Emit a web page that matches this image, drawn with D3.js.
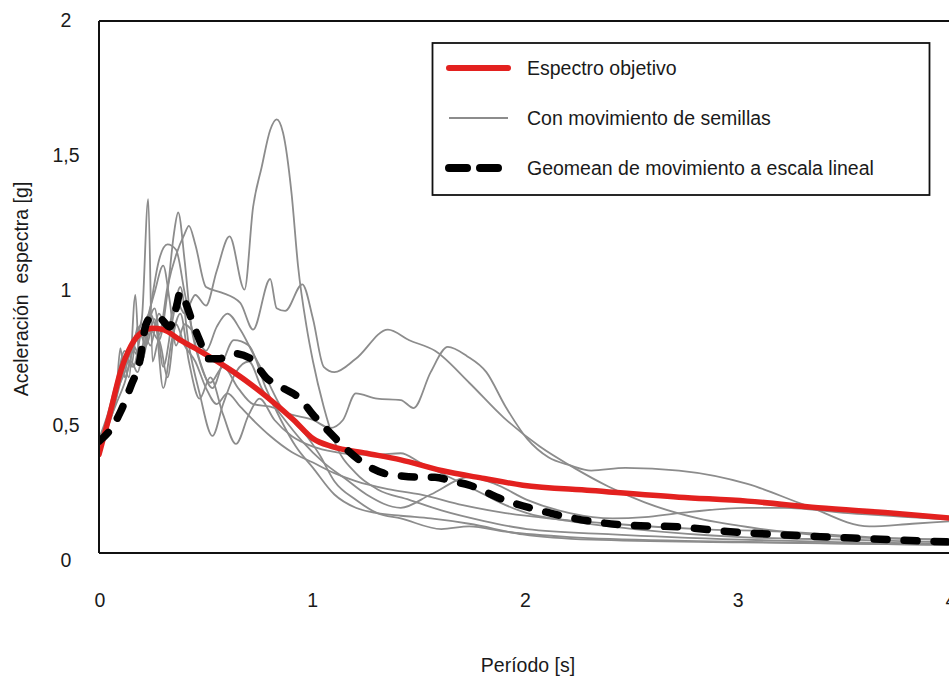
<!DOCTYPE html>
<html>
<head>
<meta charset="utf-8">
<script src="https://cdn.jsdelivr.net/npm/d3@7"></script>
<style>
  html, body { margin: 0; padding: 0; background: #fff; }
  svg { display: block; font-family: "Liberation Sans", Arial, sans-serif; }
  text { white-space: pre; }
</style>
</head>
<body>
<svg id="chart" width="949" height="677"></svg>
<script>
// ---------------- DATA ----------------
const xTicks = [0, 1, 2, 3, 4];
const yTicks = [0, 0.5, 1, 1.5, 2];
const yTickLabels = ["0", "0,5", "1", "1,5", "2"];
const xTitle = "Período [s]";
const yTitle = "Aceleración  espectra [g]";
const legendLabels = ["Espectro objetivo", "Con movimiento de semillas", "Geomean de movimiento a escala lineal"];

// Target spectrum [period, accel]
const targetSpectrum = [[0,0.37],[0.05,0.52],[0.1,0.68],[0.15,0.78],[0.2,0.83],[0.25,0.845],[0.3,0.84],[0.38,0.80],[0.47,0.76],[0.63,0.68],[0.78,0.59],[0.91,0.50],[1.0,0.43],[1.09,0.40],[1.25,0.375],[1.41,0.35],[1.6,0.31],[1.8,0.28],[1.98,0.255],[2.3,0.235],[2.71,0.21],[3.03,0.195],[3.36,0.17],[3.7,0.15],[4.0,0.13]];

// Geomean of linearly scaled motions
const geomean = [[0,0.42],[0.05,0.46],[0.1,0.53],[0.15,0.63],[0.19,0.72],[0.22,0.86],[0.25,0.89],[0.29,0.88],[0.33,0.85],[0.36,0.92],[0.38,0.98],[0.41,0.93],[0.44,0.86],[0.47,0.80],[0.51,0.73],[0.56,0.73],[0.63,0.75],[0.71,0.73],[0.78,0.66],[0.86,0.62],[0.94,0.58],[1.0,0.52],[1.07,0.46],[1.17,0.38],[1.25,0.33],[1.33,0.30],[1.41,0.29],[1.5,0.285],[1.57,0.285],[1.65,0.27],[1.73,0.255],[1.89,0.20],[2.06,0.16],[2.22,0.13],[2.46,0.105],[2.71,0.098],[2.95,0.08],[3.2,0.068],[3.52,0.056],[3.96,0.042],[4.0,0.041]];

// Seed motions
const seed1 = [[0,0.41],[0.04,0.5],[0.08,0.62],[0.12,0.72],[0.16,0.8],[0.2,0.86],[0.24,0.78],[0.28,0.9],[0.32,0.84],[0.36,0.95],[0.4,0.9],[0.45,0.97],[0.5,0.93],[0.55,1.06],[0.61,1.19],[0.68,0.99],[0.72,1.3],[0.76,1.45],[0.8,1.59],[0.83,1.63],[0.86,1.58],[0.9,1.35],[0.93,1.08],[0.97,0.85],[1.0,0.72],[1.05,0.55],[1.1,0.42],[1.2,0.3],[1.3,0.24],[1.45,0.2],[1.6,0.16],[1.8,0.12],[2.0,0.09],[2.4,0.07],[3.0,0.05],[3.5,0.04],[4.0,0.035]];
const seed2 = [[0,0.42],[0.04,0.5],[0.08,0.6],[0.1,0.77],[0.12,0.66],[0.15,0.74],[0.17,0.8],[0.2,0.88],[0.23,1.33],[0.25,0.72],[0.28,0.8],[0.32,0.66],[0.36,0.86],[0.4,0.78],[0.45,0.72],[0.5,0.62],[0.55,0.56],[0.6,0.6],[0.66,0.55],[0.72,0.5],[0.8,0.44],[0.9,0.38],[1.0,0.34],[1.1,0.3],[1.2,0.27],[1.35,0.24],[1.5,0.22],[1.7,0.18],[1.9,0.15],[2.1,0.13],[2.4,0.11],[2.8,0.09],[3.2,0.08],[3.6,0.06],[4.0,0.05]];
const seed3 = [[0,0.40],[0.04,0.48],[0.08,0.58],[0.12,0.7],[0.16,0.76],[0.2,0.72],[0.24,0.84],[0.28,0.8],[0.32,0.98],[0.35,1.2],[0.37,1.28],[0.4,1.1],[0.43,0.86],[0.47,0.72],[0.52,0.64],[0.58,0.7],[0.65,0.62],[0.72,0.56],[0.8,0.55],[0.9,0.52],[1.0,0.5],[1.08,0.47],[1.14,0.5],[1.2,0.6],[1.3,0.58],[1.41,0.575],[1.47,0.545],[1.55,0.68],[1.63,0.775],[1.72,0.74],[1.81,0.68],[1.9,0.55],[2.0,0.43],[2.1,0.36],[2.2,0.33],[2.3,0.31],[2.46,0.32],[2.71,0.31],[3.03,0.26],[3.3,0.18],[3.6,0.1],[3.8,0.11],[4.0,0.12]];
const seed4 = [[0,0.43],[0.04,0.52],[0.08,0.64],[0.12,0.74],[0.16,0.7],[0.2,0.84],[0.24,0.9],[0.28,0.82],[0.32,1.0],[0.36,1.12],[0.4,1.2],[0.42,1.23],[0.45,1.16],[0.5,1.0],[0.57,0.98],[0.66,0.94],[0.72,0.84],[0.8,1.03],[0.83,0.92],[0.87,0.91],[0.95,1.01],[1.0,0.88],[1.05,0.7],[1.1,0.68],[1.2,0.73],[1.35,0.84],[1.45,0.8],[1.57,0.76],[1.73,0.64],[1.89,0.51],[2.06,0.4],[2.22,0.32],[2.38,0.25],[2.55,0.19],[2.8,0.13],[3.1,0.09],[3.5,0.06],[4.0,0.05]];
const seed5 = [[0,0.41],[0.04,0.49],[0.08,0.6],[0.12,0.68],[0.16,0.78],[0.2,0.72],[0.24,0.92],[0.28,1.1],[0.32,1.16],[0.36,1.14],[0.4,0.98],[0.44,0.82],[0.48,0.7],[0.53,0.62],[0.58,0.72],[0.63,0.8],[0.7,0.78],[0.78,0.62],[0.85,0.5],[0.92,0.4],[1.0,0.32],[1.1,0.22],[1.2,0.17],[1.3,0.15],[1.41,0.14],[1.55,0.13],[1.73,0.11],[1.98,0.07],[2.3,0.05],[3.0,0.04],[4.0,0.03]];
const seed6 = [[0,0.40],[0.04,0.47],[0.08,0.58],[0.11,0.72],[0.14,0.66],[0.17,0.97],[0.19,0.7],[0.22,0.82],[0.26,0.92],[0.3,0.7],[0.34,0.86],[0.38,1.0],[0.42,0.78],[0.47,0.6],[0.53,0.44],[0.58,0.56],[0.64,0.68],[0.7,0.72],[0.76,0.62],[0.85,0.52],[0.95,0.42],[1.05,0.34],[1.15,0.28],[1.25,0.22],[1.41,0.17],[1.55,0.22],[1.73,0.285],[1.85,0.26],[2.0,0.2],[2.2,0.15],[2.4,0.13],[2.55,0.135],[2.71,0.15],[3.03,0.17],[3.2,0.17],[3.5,0.15],[4.0,0.125]];
const seed7 = [[0,0.42],[0.04,0.5],[0.08,0.63],[0.12,0.76],[0.15,0.7],[0.18,0.85],[0.22,0.78],[0.26,0.88],[0.3,0.62],[0.34,0.8],[0.38,0.9],[0.42,0.72],[0.47,0.58],[0.52,0.66],[0.58,0.52],[0.64,0.41],[0.7,0.52],[0.75,0.58],[0.82,0.5],[0.9,0.44],[1.0,0.4],[1.1,0.38],[1.2,0.37],[1.3,0.37],[1.41,0.375],[1.5,0.34],[1.6,0.3],[1.7,0.26],[1.8,0.22],[1.9,0.18],[2.0,0.15],[2.2,0.12],[2.5,0.09],[3.0,0.06],[3.5,0.05],[4.0,0.04]];
const seed8 = [[0,0.40],[0.04,0.48],[0.08,0.56],[0.12,0.64],[0.15,0.72],[0.18,0.68],[0.22,0.86],[0.26,0.98],[0.3,1.08],[0.33,0.95],[0.36,0.78],[0.4,0.86],[0.45,0.82],[0.5,0.76],[0.55,0.85],[0.6,0.9],[0.66,0.84],[0.72,0.75],[0.78,0.66],[0.85,0.55],[0.9,0.5],[0.96,0.45],[1.03,0.37],[1.1,0.27],[1.2,0.2],[1.3,0.15],[1.41,0.13],[1.6,0.09],[1.73,0.1],[1.9,0.08],[2.2,0.06],[2.8,0.045],[3.5,0.035],[4.0,0.03]];
const seeds = [seed1, seed2, seed3, seed4, seed5, seed6, seed7, seed8];

// ---------------- DRAW ----------------
const svg = d3.select("#chart");
const mLeft = 99, mRight = 955, mTop = 21, mBottom = 553;
const fontSize = 19.5;
const textColor = "#1a1a1a";

const x = d3.scaleLinear().domain([0, 4]).range([mLeft, mRight]);
const y = d3.scaleLinear().domain([0, 2]).range([mBottom, mTop]);
const yLab = d3.scaleLinear().domain([0, 2]).range([560, 20]);
const xLab = d3.scaleLinear().domain([0, 4]).range([100, 951]);

svg.append("defs").append("clipPath").attr("id", "plotclip")
  .append("rect").attr("x", mLeft).attr("y", mTop - 5).attr("width", mRight - mLeft).attr("height", mBottom - mTop + 5);

const line = d3.line().x(d => x(d[0])).y(d => y(d[1])).curve(d3.curveMonotoneX);

const plot = svg.append("g").attr("clip-path", "url(#plotclip)");

plot.selectAll("path.seed").data(seeds).join("path")
  .attr("class", "seed")
  .attr("d", line)
  .attr("fill", "none")
  .attr("stroke", "#8c8c8c")
  .attr("stroke-width", 1.8)
  .attr("stroke-linejoin", "round");

plot.append("path").datum(targetSpectrum)
  .attr("d", line)
  .attr("fill", "none")
  .attr("stroke", "#e3211f")
  .attr("stroke-width", 5.5)
  .attr("stroke-linejoin", "round")
  .attr("stroke-linecap", "round");

plot.append("path").datum(geomean)
  .attr("d", line)
  .attr("fill", "none")
  .attr("stroke", "#000")
  .attr("stroke-width", 7.5)
  .attr("stroke-dasharray", "13,17")
  .attr("stroke-linecap", "round")
  .attr("stroke-linejoin", "round");

// Frame
const frame = svg.append("g").attr("stroke", "#111").attr("stroke-width", 2);
frame.append("line").attr("x1", mLeft).attr("x2", mLeft).attr("y1", mTop).attr("y2", mBottom);
frame.append("line").attr("x1", mLeft).attr("x2", mRight).attr("y1", mBottom).attr("y2", mBottom);
frame.append("line").attr("x1", mLeft).attr("x2", mRight).attr("y1", mTop).attr("y2", mTop);
frame.append("line").attr("x1", mRight).attr("x2", mRight).attr("y1", mTop).attr("y2", mBottom);

// Y tick labels
svg.append("g").selectAll("text").data(yTicks).join("text")
  .attr("x", 66).attr("y", d => yLab(d)).attr("dy", "0.35em")
  .attr("text-anchor", "middle").attr("font-size", fontSize).attr("fill", textColor)
  .text((d, i) => yTickLabels[i]);

// X tick labels
svg.append("g").selectAll("text").data(xTicks).join("text")
  .attr("x", d => xLab(d)).attr("y", 600).attr("dy", "0.35em")
  .attr("text-anchor", "middle").attr("font-size", fontSize).attr("fill", textColor)
  .text(d => d);

// Axis titles
svg.append("text").attr("x", 528).attr("y", 665).attr("dy", "0.35em")
  .attr("text-anchor", "middle").attr("font-size", fontSize).attr("fill", textColor).text(xTitle);
svg.append("text").attr("transform", "translate(21,289) rotate(-90)").attr("dy", "0.35em")
  .attr("text-anchor", "middle").attr("font-size", fontSize).attr("fill", textColor).text(yTitle);

// Legend
const lg = svg.append("g");
lg.append("rect").attr("x", 432.5).attr("y", 43).attr("width", 497).attr("height", 152)
  .attr("fill", "#fff").attr("stroke", "#111").attr("stroke-width", 1.8);
const legendY = [68, 118, 168];
lg.append("line").attr("x1", 449).attr("x2", 508).attr("y1", legendY[0]).attr("y2", legendY[0])
  .attr("stroke", "#e3211f").attr("stroke-width", 6).attr("stroke-linecap", "round");
lg.append("line").attr("x1", 449).attr("x2", 508).attr("y1", legendY[1]).attr("y2", legendY[1])
  .attr("stroke", "#8c8c8c").attr("stroke-width", 1.8);
lg.append("line").attr("x1", 449).attr("x2", 500).attr("y1", legendY[2]).attr("y2", legendY[2])
  .attr("stroke", "#000").attr("stroke-width", 8).attr("stroke-dasharray", "18,13").attr("stroke-linecap", "round");
lg.selectAll("text").data(legendLabels).join("text")
  .attr("x", 527).attr("y", (d, i) => legendY[i]).attr("dy", "0.35em")
  .attr("font-size", fontSize).attr("fill", textColor).text(d => d);
</script>
</body>
</html>
